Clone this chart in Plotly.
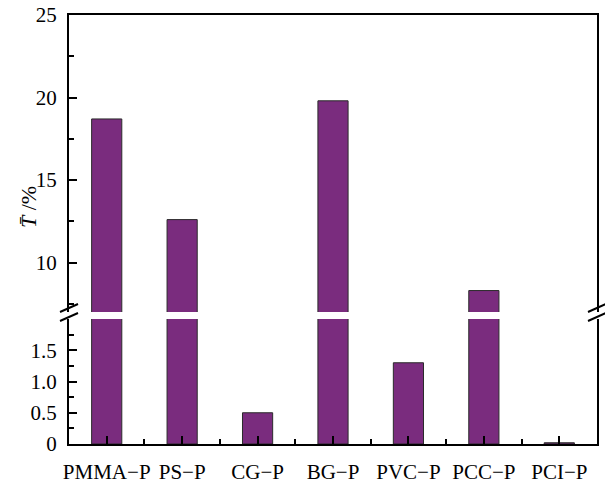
import plotly.graph_objects as go

categories = ["PMMA\u2212P", "PS\u2212P", "CG\u2212P", "BG\u2212P", "PVC\u2212P", "PCC\u2212P", "PCI\u2212P"]
values = [18.7, 12.6, 0.5, 19.8, 1.3, 8.3, 0.02]
lower_ticks = [0, 0.5, 1.0, 1.5]
lower_labels = ["0", "0.5", "1.0", "1.5"]
upper_ticks = [10, 15, 20, 25]
upper_labels = ["10", "15", "20", "25"]

W, H = 605, 483
L, R, T, B = 69, 8, 15, 39
pw, ph = W - L - R, H - T - B

def px(x):
    return (x - L) / pw

def py(y):
    return (H - B - y) / ph

FONT = "Liberation Serif, DejaVu Serif, serif"
BAR = "#7a2c7e"
EDGE = "#2b2b2b"

fig = go.Figure()
xs = list(range(len(categories)))
fig.add_trace(go.Bar(x=xs, y=values, width=0.4, marker=dict(color=BAR, line=dict(color=EDGE, width=1)),
                     xaxis="x", yaxis="y", showlegend=False))
fig.add_trace(go.Bar(x=xs, y=values, width=0.4, marker=dict(color=BAR, line=dict(color=EDGE, width=1)),
                     xaxis="x2", yaxis="y2", showlegend=False))

lower_dom = [0, py(319)]
upper_dom = [py(312), 1]

axis_common = dict(showline=True, linecolor="black", linewidth=2, showgrid=False, zeroline=False,
                   ticks="inside", tickcolor="black", tickwidth=1.5, automargin=False,
                   tickfont=dict(family=FONT, size=21, color="black"))

fig.update_layout(
    width=W, height=H,
    margin=dict(l=L, r=R, t=T, b=B),
    paper_bgcolor="white", plot_bgcolor="white",
    font=dict(family=FONT, color="black"),
    xaxis=dict(axis_common, range=[-0.5, 6.5], anchor="y", tickvals=xs, ticktext=categories,
               ticklen=8, ticklabelstandoff=8,
               minor=dict(ticks="inside", tickvals=[0.5, 1.5, 2.5, 3.5, 4.5, 5.5], ticklen=5,
                          tickcolor="black", tickwidth=1.5)),
    xaxis2=dict(range=[-0.5, 6.5], anchor="y2", side="top", showline=True, linecolor="black",
                linewidth=2, showticklabels=False, ticks="", showgrid=False, zeroline=False,
                automargin=False, matches="x"),
    yaxis=dict(axis_common, domain=lower_dom, range=[0, 2.0], tickvals=lower_ticks, ticktext=lower_labels,
               ticklen=8, mirror=True, ticklabelstandoff=6,
               minor=dict(ticks="inside", tickvals=[0.25, 0.75, 1.25, 1.75], ticklen=5,
                          tickcolor="black", tickwidth=1.5)),
    yaxis2=dict(axis_common, domain=upper_dom, range=[7, 25], tickvals=upper_ticks, ticktext=upper_labels,
                ticklen=8, mirror=True, ticklabelstandoff=6,
                minor=dict(ticks="inside", tickvals=[7.5, 12.5, 17.5, 22.5], ticklen=5,
                           tickcolor="black", tickwidth=1.5)),
    bargap=0.6,
)

# axis break marks
for xc in (69, 597):
    for yc in (308, 317):
        fig.add_shape(type="line", xref="paper", yref="paper",
                      x0=px(xc - 9), y0=py(yc + 4), x1=px(xc + 9), y1=py(yc - 4),
                      line=dict(color="black", width=2))

fig.add_annotation(x=px(28), y=py(207), xref="paper", yref="paper", showarrow=False,
                   xanchor="center", yanchor="middle",
                   text="<i>T\u0304</i> /%", textangle=-90,
                   font=dict(family=FONT, size=22, color="black"))

fig.write_html("out.html", config={"displayModeBar": False},
               post_script="document.body.style.margin='0';document.body.style.padding='0';"
                           "document.documentElement.style.overflow='hidden';")
